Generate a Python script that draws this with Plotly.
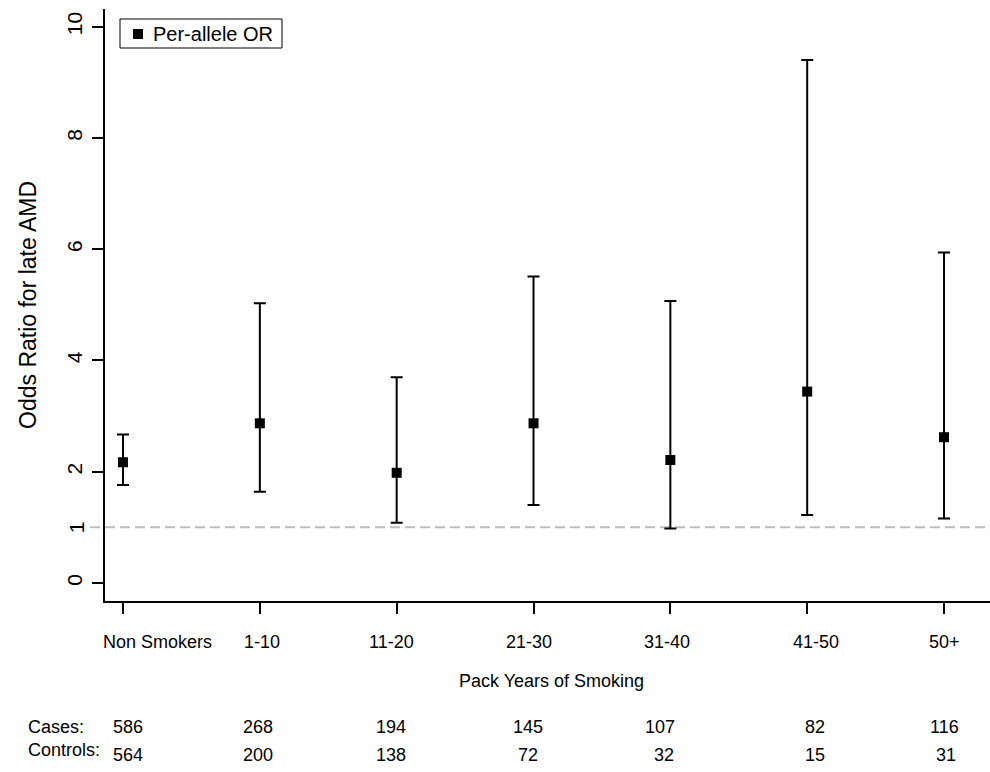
import plotly.graph_objects as go

# Per-allele odds ratios by pack-years of smoking
categories = ["Non Smokers", "1-10", "11-20", "21-30", "31-40", "41-50", "50+"]
odds_ratio = [2.17, 2.87, 1.98, 2.87, 2.21, 3.44, 2.62]
ci_upper = [2.67, 5.03, 3.70, 5.51, 5.07, 9.40, 5.94]
ci_lower = [1.76, 1.64, 1.08, 1.40, 0.98, 1.22, 1.16]
cases = [586, 268, 194, 145, 107, 82, 116]
controls = [564, 200, 138, 72, 32, 15, 31]
y_ticks = [0, 2, 4, 6, 8, 10]
reference_or = 1
series_name = "Per-allele OR"

FONT = "Liberation Sans, Arial, sans-serif"

# Plot area in pixels (left, top, width, height) used for paper-coordinate helpers
L, T, W, H = 105, 9, 885, 592

# Horizontal text placement (pixel centres) for the category labels and count rows
label_px = [157, 262, 391, 529, 667, 816, 944]
cases_px = [128, 258, 391, 528, 660, 815, 944]
controls_px = [128, 258, 391, 528, 664, 815, 946]


def px_x(p):
    return (p - L) / W


def px_y(p):
    return (T + H - p) / H


err_plus = [u - m for u, m in zip(ci_upper, odds_ratio)]
err_minus = [m - l for m, l in zip(odds_ratio, ci_lower)]

fig = go.Figure()
fig.add_trace(go.Scatter(
    x=categories, y=odds_ratio, mode="markers", name=series_name,
    marker=dict(symbol="square", size=10, color="black"),
    error_y=dict(type="data", symmetric=False, array=err_plus, arrayminus=err_minus,
                 color="black", thickness=2, width=6),
    showlegend=False,
))

# Reference line at OR = 1
fig.add_shape(type="line", xref="paper", yref="y", x0=px_x(90), x1=1,
              y0=reference_or, y1=reference_or, layer="below",
              line=dict(color="#bdbdbd", width=2, dash="10px,5px"))
fig.add_annotation(xref="paper", yref="y", x=px_x(76), y=reference_or, text="1",
                   showarrow=False, textangle=-90, xanchor="center", yanchor="middle",
                   font=dict(family=FONT, size=21, color="black"))

# Legend box
fig.add_shape(type="rect", xref="paper", yref="paper",
              x0=px_x(120), x1=px_x(282), y0=px_y(48), y1=px_y(19),
              line=dict(color="black", width=1), fillcolor="white")
fig.add_shape(type="rect", xref="paper", yref="paper",
              x0=px_x(133), x1=px_x(143), y0=px_y(39), y1=px_y(29),
              line=dict(width=0), fillcolor="black")
fig.add_annotation(xref="paper", yref="paper", x=px_x(151), y=px_y(34), text=series_name,
                   showarrow=False, xanchor="left", yanchor="middle",
                   font=dict(family=FONT, size=20, color="black"))

# Category labels, axis title and sample counts below the axis
bottom_font = dict(family=FONT, size=18, color="black")
for name, p in zip(categories, label_px):
    fig.add_annotation(xref="paper", yref="paper", x=px_x(p), y=px_y(642), text=name,
                       showarrow=False, xanchor="center", yanchor="middle", font=bottom_font)
fig.add_annotation(xref="paper", yref="paper", x=px_x(551), y=px_y(681),
                   text="Pack Years of Smoking",
                   showarrow=False, xanchor="center", yanchor="middle", font=bottom_font)
fig.add_annotation(xref="paper", yref="paper", x=px_x(26), y=px_y(727), text="Cases:",
                   showarrow=False, xanchor="left", yanchor="middle", font=bottom_font)
fig.add_annotation(xref="paper", yref="paper", x=px_x(26), y=px_y(750), text="Controls:",
                   showarrow=False, xanchor="left", yanchor="middle", font=bottom_font)
for ca, co, pa, pc in zip(cases, controls, cases_px, controls_px):
    fig.add_annotation(xref="paper", yref="paper", x=px_x(pa), y=px_y(727), text=str(ca),
                       showarrow=False, xanchor="center", yanchor="middle", font=bottom_font)
    fig.add_annotation(xref="paper", yref="paper", x=px_x(pc), y=px_y(755), text=str(co),
                       showarrow=False, xanchor="center", yanchor="middle", font=bottom_font)

fig.update_layout(
    width=990, height=772,
    margin=dict(l=L, r=990 - L - W, t=T, b=772 - T - H),
    paper_bgcolor="white", plot_bgcolor="white",
    font=dict(family=FONT, size=18, color="black"),
    showlegend=False,
    xaxis=dict(type="category", range=[-0.1316, 6.336],
               showline=True, linecolor="black", linewidth=2,
               ticks="outside", ticklen=11, tickwidth=2, tickcolor="black",
               showticklabels=False,
               showgrid=False, zeroline=False),
    yaxis=dict(range=[-0.3245, 10.318], tickvals=y_ticks,
               showline=True, linecolor="black", linewidth=2,
               ticks="outside", ticklen=11, tickwidth=2, tickcolor="black",
               tickangle=-90, ticklabelstandoff=2,
               showgrid=False, zeroline=False,
               tickfont=dict(family=FONT, size=21, color="black"),
               title=dict(text="Odds Ratio for late AMD", standoff=20,
                          font=dict(family=FONT, size=23, color="black"))),
)

fig.write_html("out.html")
